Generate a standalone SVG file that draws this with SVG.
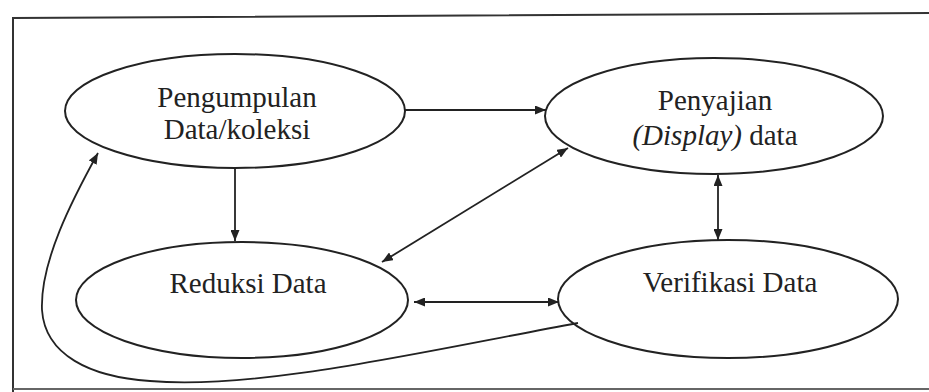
<svg xmlns="http://www.w3.org/2000/svg" width="929" height="392" viewBox="0 0 929 392">
<defs>
<style>
.node ellipse{fill:#fff;stroke:#222;stroke-width:2}
.node text{font-family:"Liberation Serif","Times New Roman",serif;font-size:29px;fill:#222;text-anchor:middle}
.conn path{fill:none;stroke:#222;stroke-width:1.8}
.frame{fill:none;stroke:#333;stroke-width:2}
</style>
<marker id="ah" viewBox="0 0 11 9" refX="11" refY="4.5" markerWidth="11" markerHeight="9" markerUnits="userSpaceOnUse" orient="auto-start-reverse">
<path d="M0,0 L11,4.5 L0,9 z" fill="#222"/>
</marker>
</defs>
<rect width="929" height="392" fill="#fff"/>
<path class="frame" d="M929,13 L13,18 L13,392"/>
<path d="M13,389 L929,389" stroke="#666" stroke-width="2" fill="none"/>
<g id="pengumpulan" class="node">
<ellipse cx="235" cy="111" rx="170" ry="57"/>
<text x="237" y="107">Pengumpulan</text>
<text x="237" y="139">Data/koleksi</text>
</g>
<g id="penyajian" class="node">
<ellipse cx="714" cy="116" rx="169" ry="58"/>
<text x="715" y="110">Penyajian</text>
<text x="715" y="145"><tspan font-style="italic">(Display)</tspan> data</text>
</g>
<g id="reduksi" class="node">
<ellipse cx="242" cy="300" rx="166" ry="58"/>
<text x="248" y="293">Reduksi Data</text>
</g>
<g id="verifikasi" class="node">
<ellipse cx="728" cy="299" rx="170" ry="59"/>
<text x="730" y="292">Verifikasi Data</text>
</g>
<g id="connectors" class="conn">
<path d="M404,110 L546,110" marker-end="url(#ah)"/>
<path d="M235,168 L235,241" marker-end="url(#ah)"/>
<path d="M382,262 L568,148" marker-start="url(#ah)" marker-end="url(#ah)"/>
<path d="M718,175 L718,240" marker-start="url(#ah)" marker-end="url(#ah)"/>
<path d="M414,302 L559,302" marker-start="url(#ah)" marker-end="url(#ah)"/>
<path d="M578,323 C420,352 260,390 150,381 C90,377 45,355 42,310 C40,262 72,200 98,153" marker-end="url(#ah)"/>
</g>
</svg>
